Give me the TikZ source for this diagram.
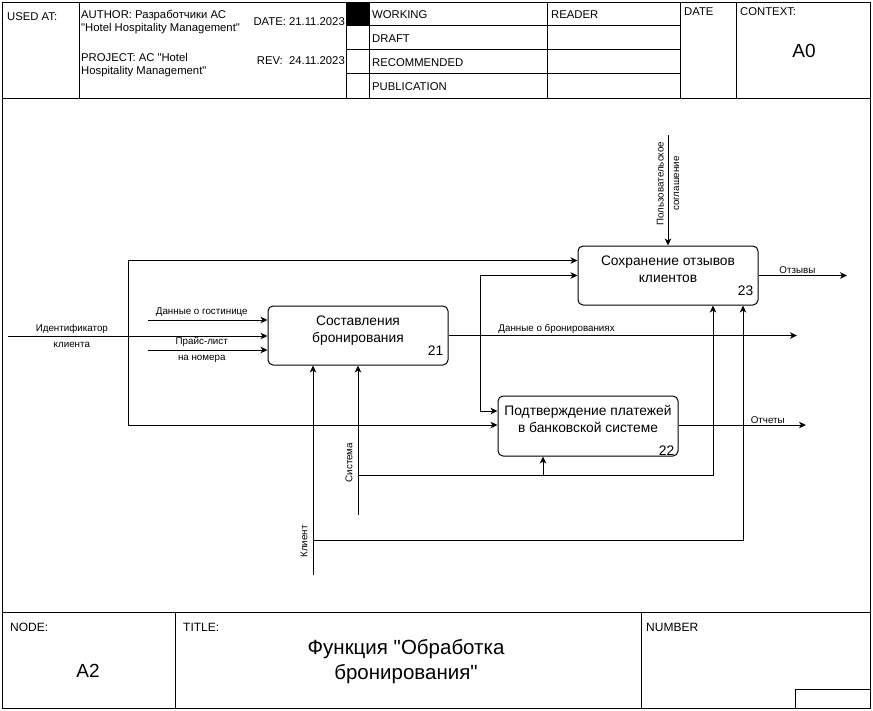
\documentclass[tikz,border=0pt]{standalone}
\usepackage{fontspec}
\setmainfont{Liberation Sans}[Ligatures=TeXOff]
\usetikzlibrary{arrows.meta}
\def\px{1pt}
\def\hdrfont{\fontsize{11.3}{12.8}\selectfont}
\def\cellfont{\fontsize{12}{14}\selectfont}
\def\funcfont{\fontsize{13.8}{17}\selectfont}
\def\lblfont{\fontsize{9.8}{15.5}\selectfont}
\def\codefont{\fontsize{19}{22}\selectfont}
\def\ttlfont{\fontsize{20.5}{25}\selectfont}

\begin{document}
\begin{tikzpicture}[x=\px,y=-\px,
  frame/.style={line width=1pt},
  func/.style={draw,line width=1pt,rounded corners=5pt,minimum width=180pt,
    minimum height=59pt,inner sep=0pt},
  functxt/.style={anchor=north,inner sep=0pt,align=center,font=\funcfont},
  funcnum/.style={anchor=base east,inner sep=0pt,font=\funcfont},
  arr/.style={line width=1pt,-{Stealth[length=7pt,width=6.5pt,inset=2pt]}},
  lbl/.style={inner sep=1pt,font=\lblfont},
  rlbl/.style={rotate=90,anchor=south,inner sep=5pt,font=\lblfont},
  hdr/.style={anchor=base west,inner sep=0pt,font=\hdrfont},
  hdrblk/.style={anchor=north west,inner sep=0pt,align=left,font=\hdrfont},
  cell/.style={anchor=base west,inner sep=0pt,font=\cellfont}]

  \useasboundingbox (0,0) rectangle (873,710);

  %% form
  \draw[frame] (2,2) rectangle (870,708);
  \draw[frame] (2,98) -- (870,98);
  \draw[frame] (2,612) -- (870,612);
  \foreach \x in {79,346,369,547,680,736}
    \draw[frame] (\x,2) -- (\x,98);
  \foreach \y in {25,49,73}
    \draw[frame] (346,\y) -- (680,\y);
  \fill (346,2) rectangle (369,25);
  \draw[frame] (175,612) -- (175,708);
  \draw[frame] (641,612) -- (641,708);
  \draw[frame] (795,689) rectangle (870,708);

  \node[hdr] (usedat) at (7,20) {USED AT:};
  \node[hdrblk] (author) at (81,10) {AUTHOR: Разработчики АС\\"Hotel Hospitality Management"};
  \node[hdrblk] (project) at (81,53) {PROJECT: АС "Hotel\\Hospitality Management"};
  \node[hdr,anchor=base east] (date) at (345,25) {DATE: 21.11.2023};
  \node[hdr,anchor=base east] (rev) at (345,64) {REV:\ \ 24.11.2023};
  \node[hdr] (working) at (372,18) {WORKING};
  \node[hdr] (draft) at (372,42) {DRAFT};
  \node[hdr] (recom) at (372,66) {RECOMMENDED};
  \node[hdr] (publ) at (372,90) {PUBLICATION};
  \node[hdr] (reader) at (551,18) {READER};
  \node[hdr] (datecol) at (684,15) {DATE};
  \node[hdr] (context) at (740,15) {CONTEXT:};
  \node[anchor=base,inner sep=0pt,font=\codefont] (ctxcode) at (804,57) {A0};

  \node[cell] (nodelbl) at (10,631) {NODE:};
  \node[cell] (titlelbl) at (183,631) {TITLE:};
  \node[cell] (numlbl) at (646,631) {NUMBER};
  \node[anchor=base,inner sep=0pt,font=\codefont] (nodecode) at (88,677) {A2};
  \node[anchor=north,inner sep=0pt,align=center,font=\ttlfont] (title) at (406,639)
    {Функция "Обработка\\бронирования"};

  %% functions
  \node[func] (b21) at (358,335.5) {};
  \node[func] (b23) at (668,275.5) {};
  \node[func,minimum height=60pt] (b22) at (588,426) {};
  \node[functxt] (b21t) at ([yshift=-10pt]b21.north) {Составления\\бронирования};
  \node[functxt] (b23t) at ([yshift=-10pt]b23.north) {Сохранение отзывов\\клиентов};
  \node[functxt] (b22t) at ([yshift=-10pt]b22.north) {Подтверждение платежей\\в банковской системе};
  \node[funcnum] (b21n) at ([xshift=-5pt,yshift=10pt]b21.south east) {21};
  \node[funcnum] (b23n) at ([xshift=-5pt,yshift=10pt]b23.south east) {23};
  \node[funcnum] (b22n) at ([xshift=-4pt,yshift=1pt]b22.south east) {22};

  %% inputs
  \coordinate (idin) at (8,336);
  \coordinate (idjn) at (128,336);
  \coordinate (hotelin) at (148,320);
  \coordinate (pricein) at (148,350);
  \draw[arr] (idin) -- node[lbl,pos=.246,align=center]{Идентификатор\\клиента} (idin -| b21.west);
  \draw[arr] (idjn) |- ([yshift=15pt]b23.west);
  \draw[arr] (idjn) |- ([yshift=1pt]b22.west);
  \draw[arr] (hotelin) -- node[lbl,above=2pt,pos=.45]{Данные о гостинице} (hotelin -| b21.west);
  \draw[arr] (pricein) -- node[lbl,pos=.45,align=center]{Прайс-лист\\на номера} (pricein -| b21.west);

  %% outputs
  \coordinate (bookjn) at (480,335.5);
  \coordinate (bookout) at (797,335.5);
  \coordinate (revout) at (847,275.5);
  \coordinate (repout) at (806,425);
  \draw[arr] (b21.east) -- node[lbl,above,pos=.31]{Данные о бронированиях} (bookout);
  \draw[arr] (bookjn) |- (b23.west);
  \draw[arr] (bookjn) |- ([yshift=15pt]b22.west);
  \draw[arr] (b23.east) -- node[lbl,above,pos=.44]{Отзывы} (revout);
  \draw[arr] ([yshift=1pt]b22.east) -- node[lbl,above,pos=.7]{Отчеты} (repout);

  %% control
  \coordinate (agree) at (668,135);
  \draw[arr] (agree) -- node[lbl,pos=.44,rotate=90,align=center]
    {Пользовательское\\соглашение} (b23.north);

  %% mechanisms
  \coordinate (system) at (358,515);
  \coordinate (sysjn) at (358,475);
  \coordinate (client) at (313,575);
  \coordinate (clijn) at (313,540);
  \coordinate (b22m) at ([xshift=-45pt]b22.south);
  \draw[arr] (system) -- node[rlbl,pos=.35]{Система} (b21.south);
  \draw[arr] (sysjn) -| ([xshift=45pt]b23.south);
  \draw[arr] (sysjn -| b22m) -- (b22m);
  \draw[arr] (client) -- node[rlbl,pos=.16]{Клиент} ([xshift=-45pt]b21.south);
  \draw[arr] (clijn) -| ([xshift=75pt]b23.south);

\end{tikzpicture}
\end{document}
